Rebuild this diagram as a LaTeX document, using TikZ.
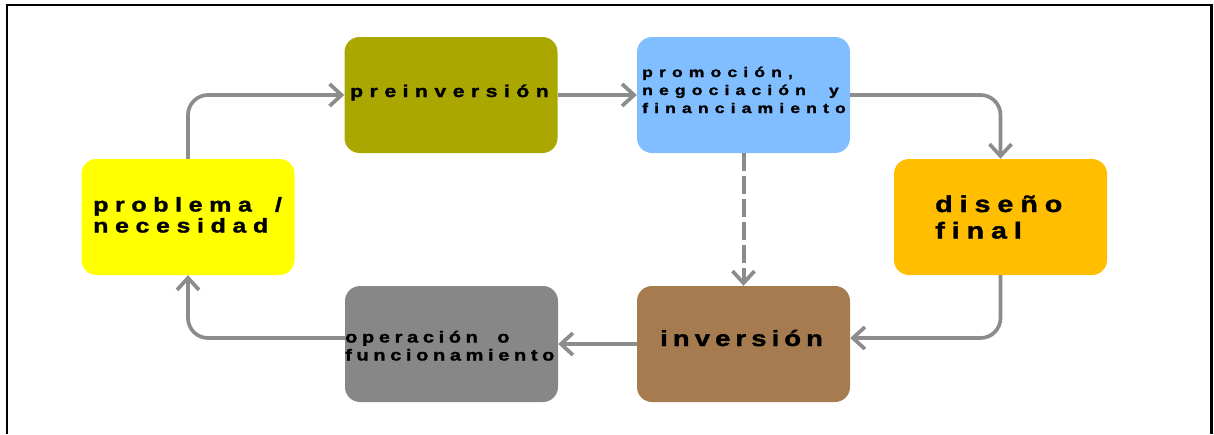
\documentclass[tikz,border=0pt]{standalone}
\usepackage{fontspec}
\usetikzlibrary{arrows.meta}

% wide, heavy, tracked sans for the stage labels
\newfontfamily\fpre{Liberation Sans}[FakeStretch=1.25,FakeBold=1.5,LetterSpace=38]
\newfontfamily\fprom{Liberation Sans}[FakeStretch=1.25,FakeBold=1.5,LetterSpace=44,WordSpace=2.1]
\newfontfamily\fprob{Liberation Sans}[FakeStretch=1.25,FakeBold=1.5,LetterSpace=33,WordSpace=1.7]
\newfontfamily\fdis{Liberation Sans}[FakeStretch=1.25,FakeBold=1.5,LetterSpace=30]
\newfontfamily\finv{Liberation Sans}[FakeStretch=1.25,FakeBold=1.5,LetterSpace=23]
\newfontfamily\fope{Liberation Sans}[FakeStretch=1.25,FakeBold=1.5,LetterSpace=29,WordSpace=1.9]

\definecolor{cyellow}{HTML}{FFFF00}
\definecolor{colive}{HTML}{AAA800}
\definecolor{cblue}{HTML}{80BEFF}
\definecolor{camber}{HTML}{FFBF00}
\definecolor{cbrown}{HTML}{A67B4F}
\definecolor{cgray}{HTML}{878787}
\definecolor{linegray}{HTML}{8C8C8C}

\begin{document}
\begin{tikzpicture}[x=1pt,y=-1pt,
  stage/.style={draw=none, rounded corners=15pt, minimum width=213pt,
    minimum height=116pt, inner sep=0pt},
  lbl/.style={inner sep=0pt, anchor=base west, align=left, text=black},
  flow/.style={draw=linegray, line width=3.7pt, rounded corners=20pt,
    -{Straight Barb[length=12pt,width=22pt,line width=3.7pt]}},
  dashflow/.style={flow, rounded corners=0pt, line width=4pt,
    dash pattern=on 18pt off 5pt}]

\useasboundingbox (0,0) rectangle (1214,434);

% outer frame, open at the bottom
\draw[line width=2.5pt] (7,434) -- (7,5) -- (1211.5,5) -- (1211.5,434);

% stages
\node[stage, fill=cyellow] (prob) at (188,217) {};
\node[stage, fill=colive]  (pre)  at (451,95) {};
\node[stage, fill=cblue]   (prom) at (743.5,95) {};
\node[stage, fill=camber]  (dis)  at (1000.5,217) {};
\node[stage, fill=cbrown]  (inv)  at (743.5,344) {};
\node[stage, fill=cgray]   (ope)  at (451.5,344) {};

% labels (the anchor sits on the baseline of the last line)
\node[lbl, font={\fprob\bfseries\fontsize{20}{21}\selectfont}] (tprob) at (93,232.5) {problema /\\necesidad};
\node[lbl, font={\fpre\bfseries\fontsize{17}{19}\selectfont}] (tpre) at (350,97) {preinversión};
\node[lbl, font={\fprom\bfseries\fontsize{14}{18}\selectfont}] (tprom) at (642,113) {promoción,\\negociación y\\financiamiento};
\node[lbl, font={\fdis\bfseries\fontsize{23}{26.5}\selectfont}] (tdis) at (935,238.5) {diseño\\final};
\node[lbl, font={\finv\bfseries\fontsize{22}{24}\selectfont}] (tinv) at (660,346) {inversión};
\node[lbl, font={\fope\bfseries\fontsize{16}{18}\selectfont}] (tope) at (345,360.5) {operación o\\funcionamiento};

% cycle connectors
\draw[flow] (prob.north) |- (pre.west);
\draw[flow] (pre.east) -- (prom.west);
\draw[flow] (prom.east) -| (dis.north);
\draw[flow] (dis.south) |- ([yshift=6pt]inv.east);
\draw[flow] (inv.west) -- (ope.east);
\draw[flow] ([yshift=6pt]ope.west) -| (prob.south);
\draw[dashflow] (prom.south) -- (inv.north);
\end{tikzpicture}
\end{document}
